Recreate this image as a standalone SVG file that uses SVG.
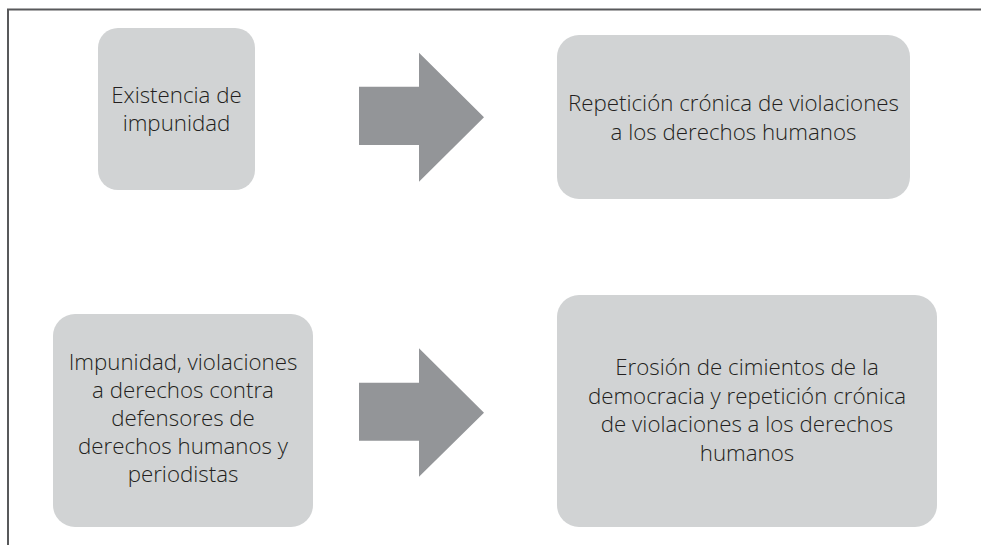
<svg xmlns="http://www.w3.org/2000/svg" width="981" height="545" viewBox="0 0 981 545">
<style>
.box{fill:#d1d3d4}
.arr{fill:#939598}
.t{font-family:"Open Sans","Noto Sans","DejaVu Sans",sans-serif;font-size:22.3px;font-weight:300;fill:#231f20;text-anchor:middle}
.frame{stroke:#58595b;stroke-width:2;fill:none}
</style>
<rect width="981" height="545" fill="#ffffff"/>
<g id="frame">
<path class="frame" d="M981 9.5 H8 V545"/>
</g>
<g id="n1">
<rect class="box" x="98" y="28" width="157" height="162" rx="20"/>
<text class="t" x="176.5" y="102.5">Existencia de</text>
<text class="t" x="176.5" y="131">impunidad</text>
</g>
<g id="n2">
<rect class="box" x="557" y="35" width="353" height="164" rx="22"/>
<text class="t" x="733.5" y="111">Repetición crónica de violaciones</text>
<text class="t" x="733.5" y="139.5">a los derechos humanos</text>
</g>
<g id="n3">
<rect class="box" x="53" y="314" width="260" height="213" rx="22"/>
<text class="t" x="183" y="370">Impunidad, violaciones</text>
<text class="t" x="183" y="398">a derechos contra</text>
<text class="t" x="183" y="426">defensores de</text>
<text class="t" x="183" y="454">derechos humanos y</text>
<text class="t" x="183" y="482">periodistas</text>
</g>
<g id="n4">
<rect class="box" x="557" y="295" width="380" height="232" rx="22"/>
<text class="t" x="747" y="375">Erosión de cimientos de la</text>
<text class="t" x="747" y="403.5">democracia y repetición crónica</text>
<text class="t" x="747" y="432">de violaciones a los derechos</text>
<text class="t" x="747" y="460.5">humanos</text>
</g>
<g id="connectors">
<polygon class="arr" points="359,86.7 419,86.7 419,52.7 484,117.3 419,181.7 419,145 359,145"/>
<polygon class="arr" points="359,382.7 419,382.7 419,348.3 484,412.7 419,476.7 419,440.7 359,440.7"/>
</g>
</svg>
